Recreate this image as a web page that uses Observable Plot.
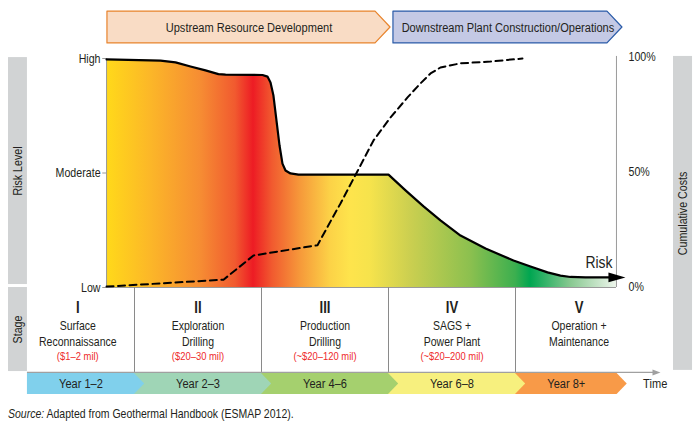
<!DOCTYPE html>
<html><head><meta charset="utf-8">
<script src="https://cdn.jsdelivr.net/npm/d3@7"></script>
<script src="https://cdn.jsdelivr.net/npm/@observablehq/plot@0.6"></script>
<style>
body{margin:0;background:#fff;}
#caption{font-family:"Liberation Sans",Arial,sans-serif;font-size:12.8px;color:#231f20;margin:2px 0 0 8px;line-height:16px;white-space:nowrap;}
#caption span{display:inline-block;transform:scaleX(0.82);transform-origin:0 0;}
</style></head><body>
<div id="chart"></div>
<div id="caption"><span><i>Source:</i> Adapted from Geothermal Handbook (ESMAP 2012).</span></div>
<script>
// ---------- DATA ----------
// time axis in stage units (stage boundaries at 1,2,3,4)
const riskT = [0.780,1.205,1.323,1.441,1.559,1.661,1.717,2.008,2.047,2.071,2.094,2.118,2.142,2.165,2.189,2.228,2.291,3.000,3.134,3.276,3.409,3.567,3.764,3.984,4.118,4.252,4.354,4.433,4.551,4.795];
const riskLevel = [0.996,0.991,0.983,0.965,0.948,0.932,0.930,0.928,0.921,0.895,0.838,0.729,0.620,0.541,0.511,0.498,0.493,0.493,0.424,0.354,0.293,0.227,0.170,0.118,0.092,0.066,0.052,0.046,0.044,0.044];
const costT = [0.780,1.701,1.937,2.441,2.567,2.622,2.740,2.882,3.016,3.150,3.252,3.331,3.409,3.567,3.803,4.055];
const costPct = [0,3,13.5,18,30.7,36.1,48.5,63.5,73.5,82.2,88.3,92.6,95.2,97,97.8,99.1];
const riskTicks = ["Low","Moderate","High"];
const riskTickValues = [0,0.5,1];
const costTickValues = [0,50,100];
const phaseLabels = ["Upstream Resource Development","Downstream Plant Construction/Operations"];
const phaseStart = [0.787,3.039];
const phaseEnd = [2.898,4.724];
const stageNumerals = ["I","II","III","IV","V"];
const stageNames = ["Surface\nReconnaissance","Exploration\nDrilling","Production\nDrilling","SAGS +\nPower Plant","Operation +\nMaintenance"];
const stageCosts = ["($1–2 mil)","($20–30 mil)","(~$20–120 mil)","(~$20–200 mil)",""];
const stageEdges = [0.157,1,2,3,4,5];
const yearLabels = ["Year 1–2","Year 2–3","Year 4–6","Year 6–8","Year 8+"];
const yearEnds = [1,2,3,4,4.80];

// ---------- STYLE ----------
const FONT = '"Liberation Sans",Arial,sans-serif';
const SQUEEZE = 0.82; // condensed look
const INK = "#231f20";
const GRAY = "#d1d3d4";
const yearColors = ["#80d0ec","#9fd5b6","#a5d06e","#f7f07e","#f89a48"];
const phaseFill = ["#f9dcc5","#c4c9e5"];
const phaseStroke = ["#e8842d","#2a5ba8"];
const gradStops = [[0.780,"#ffd91a"],[1.126,"#fcb728"],[1.520,"#f68d33"],[1.795,"#f15a2f"],[1.937,"#ed1c24"],[2.087,"#f15a2f"],[2.307,"#f6993a"],[2.543,"#fcd247"],[2.701,"#fee44c"],[2.858,"#f6e34c"],[3.173,"#cbcf50"],[3.646,"#8cc04f"],[4.000,"#3caf4f"],[4.118,"#00a651"],[4.433,"#87c890"],[4.795,"#eef6ec"]];
// layout bands (in risk-level units of the y scale)
const B = {bannerTop:1.205, bannerBot:1.066, stageBot:-0.371, yearTop:-0.3755, yearBot:-0.467,
           leftBarX:[0.008,0.157], rightBarX:[5.244,5.394], riskBar:[0.013,1.004], stageBar:[-0.367,0], rightBar:[-0.362,1.009],
           numeralY:-0.0895, nameY:-0.199, costY:-0.3};
const costToLevel = p => 0.004 + p/100*1.005;

// ---------- DERIVED TABLES ----------
const risk = riskT.map((t,i)=>({t, v:riskLevel[i]}));
const cost = costT.map((t,i)=>({t, v:costToLevel(costPct[i])}));
const leftT = riskT[0], rightT = riskT[riskT.length-1];
const phaseTip = 0.118, yearTip = 0.08;
const bannerMid = (B.bannerTop+B.bannerBot)/2, yearMid = (B.yearTop+B.yearBot)/2;
const banners = [];
phaseLabels.forEach((lab,i)=>{
  banners.push({z:lab,x:phaseStart[i],y1:B.bannerBot,y2:B.bannerTop,fill:phaseFill[i],stroke:phaseStroke[i]});
  banners.push({z:lab,x:phaseEnd[i],y1:B.bannerBot,y2:B.bannerTop,fill:phaseFill[i],stroke:phaseStroke[i]});
  banners.push({z:lab,x:phaseEnd[i]+phaseTip,y1:bannerMid,y2:bannerMid,fill:phaseFill[i],stroke:phaseStroke[i]});
});
const bannerText = phaseLabels.map((lab,i)=>({lab, x:(phaseStart[i]+phaseEnd[i]+phaseTip)/2}));
const chevrons = [];
for (let i = yearLabels.length-1; i >= 0; i--) {
  const x0 = stageEdges[i], x1 = yearEnds[i], c = yearColors[i], z = yearLabels[i];
  chevrons.push({z,x:x0,y1:B.yearBot,y2:B.yearTop,fill:c});
  chevrons.push({z,x:x1,y1:B.yearBot,y2:B.yearTop,fill:c});
  chevrons.push({z,x:x1+yearTip,y1:yearMid,y2:yearMid,fill:c});
}
const yearText = yearLabels.map((lab,i)=>({lab, x:(stageEdges[i]+yearEnds[i])/2}));
const stages = stageNumerals.map((n,i)=>({n, name:stageNames[i], cost:stageCosts[i], x:(stageEdges[i]+stageEdges[i+1])/2 - (i===0?0.025:0)}));

const arrowHead = {draw(ctx){ctx.moveTo(9,0);ctx.lineTo(-8,-4.8);ctx.lineTo(-8,4.8);ctx.closePath();}};
const smallHead = {draw(ctx){ctx.moveTo(4,0);ctx.lineTo(-4,-3);ctx.lineTo(-4,3);ctx.closePath();}};

function gradientDefs(){
  const ns = "http://www.w3.org/2000/svg";
  const defs = document.createElementNS(ns,"defs");
  const g = document.createElementNS(ns,"linearGradient");
  g.setAttribute("id","riskGrad"); g.setAttribute("x1","0"); g.setAttribute("x2","1"); g.setAttribute("y1","0"); g.setAttribute("y2","0");
  gradStops.forEach(([t,c])=>{
    const s = document.createElementNS(ns,"stop");
    s.setAttribute("offset", ((t-leftT)/(rightT-leftT)).toFixed(4));
    s.setAttribute("stop-color", c);
    g.appendChild(s);
  });
  defs.appendChild(g);
  return defs;
}

const txt = {fontFamily: FONT, fill: INK};

const chart = Plot.plot({
  width: 700, height: 404,
  marginTop:0, marginBottom:0, marginLeft:0, marginRight:0,
  x: {domain:[0,5], range:[7,642], axis:null},
  y: {domain:[0,1], range:[287,58], axis:null},
  color: {type:"identity"},
  style: {fontFamily: FONT, fontSize:"12.5px", background:"#fff", color: INK, overflow:"visible"},
  marks: [
    gradientDefs,
    // gray side bars
    Plot.rect([0], {x1:B.leftBarX[0], x2:B.leftBarX[1], y1:B.riskBar[0], y2:B.riskBar[1], fill:GRAY}),
    Plot.rect([0], {x1:B.leftBarX[0], x2:B.leftBarX[1], y1:B.stageBar[0], y2:B.stageBar[1], fill:GRAY}),
    Plot.rect([0], {x1:B.rightBarX[0], x2:B.rightBarX[1], y1:B.rightBar[0], y2:B.rightBar[1], fill:GRAY}),
    Plot.text(["Risk Level"], {x:(B.leftBarX[0]+B.leftBarX[1])/2, y:(B.riskBar[0]+B.riskBar[1])/2, text:d=>d, rotate:-90, fontSize:13, ...txt}),
    Plot.text(["Stage"], {x:(B.leftBarX[0]+B.leftBarX[1])/2, y:(B.stageBar[0]+B.stageBar[1])/2, text:d=>d, rotate:-90, fontSize:13, ...txt}),
    Plot.text(["Cumulative Costs"], {x:(B.rightBarX[0]+B.rightBarX[1])/2, y:(B.rightBar[0]+B.rightBar[1])/2, text:d=>d, rotate:-90, fontSize:13, ...txt}),
    // phase banners
    Plot.areaY(banners, {x:"x", y1:"y1", y2:"y2", z:"z", fill:"fill", stroke:"stroke", strokeWidth:1.2, curve:"linear"}),
    Plot.text(bannerText, {x:"x", y:bannerMid, text:"lab", fontSize:13.5, ...txt}),
    // risk area with gradient
    Plot.areaY(risk, {x:"t", y:"v", fill:"url(#riskGrad)", curve:"linear"}),
    // axes lines
    Plot.ruleX([leftT], {y1:0, y2:1, stroke:"#9a9a9a", strokeWidth:1}),
    Plot.ruleX([rightT], {y1:0, y2:1.009, stroke:"#9a9a9a", strokeWidth:1}),
    Plot.ruleY([0], {x1:leftT, x2:rightT, stroke:"#9a9a9a", strokeWidth:1}),
    Plot.ruleY(riskTickValues, {x1:leftT-0.03, x2:leftT, stroke:"#9a9a9a"}),
    Plot.text(riskTickValues, {x:leftT, y:d=>d, dx:-6, text:(d,i)=>riskTicks[i], textAnchor:"end", fontSize:13, ...txt}),
    Plot.text(costTickValues, {x:rightT, y:d=>costToLevel(d), dx:12, text:d=>d+"%", textAnchor:"start", fontSize:13, ...txt}),
    // lines
    Plot.line(cost, {x:"t", y:"v", stroke:"#000", strokeWidth:2, strokeDasharray:"7,4.5", curve:"linear"}),
    Plot.line(risk, {x:"t", y:"v", stroke:"#000", strokeWidth:2.2, curve:"linear"}),
    Plot.dot([risk[risk.length-1]], {x:"t", y:"v", symbol:arrowHead, fill:"#000", stroke:"none"}),
    Plot.text([risk[risk.length-1]], {x:"t", y:"v", text:()=>"Risk", dx:-4, dy:-15, textAnchor:"end", fontSize:17, ...txt}),
    // stage dividers
    Plot.ruleX(stageEdges.slice(1,5), {y1:0, y2:B.stageBot, stroke:"#8a8a8a", strokeWidth:1}),
    // stage texts
    Plot.text(stages, {x:"x", y:B.numeralY, text:"n", fontSize:16, fontWeight:"bold", ...txt}),
    Plot.text(stages, {x:"x", y:B.nameY, text:"name", fontSize:12.8, lineHeight:1.22, ...txt}),
    Plot.text(stages, {x:"x", y:B.costY, text:"cost", fontSize:11.5, fontFamily:FONT, fill:"#ee2a2a"}),
    // time arrow
    Plot.ruleY([B.stageBot], {x1:stageEdges[0], x2:5.11, stroke:"#a0a0a0", strokeWidth:1.2}),
    Plot.dot([0], {x:5.11, y:B.stageBot, symbol:smallHead, fill:"#a0a0a0", stroke:"none"}),
    Plot.text(["Time"], {x:5.1, y:yearMid, text:d=>d, fontSize:13.5, ...txt}),
    // year chevrons
    Plot.areaY(chevrons, {x:"x", y1:"y1", y2:"y2", z:"z", fill:"fill", curve:"linear"}),
    Plot.text(yearText, {x:"x", y:yearMid, text:"lab", fontSize:13.5, ...txt})
  ]
});
// condense all text horizontally (Helvetica Condensed look)
chart.querySelectorAll("text").forEach(el => {
  const tr = el.getAttribute("transform");
  if (tr) el.setAttribute("transform", tr + ` scale(${SQUEEZE},1)`);
  else {
    const x = +el.getAttribute("x") || 0, y = +el.getAttribute("y") || 0;
    el.setAttribute("transform", `translate(${x},${y}) scale(${SQUEEZE},1) translate(${-x},${-y})`);
  }
});
document.getElementById("chart").appendChild(chart);
</script></body></html>
